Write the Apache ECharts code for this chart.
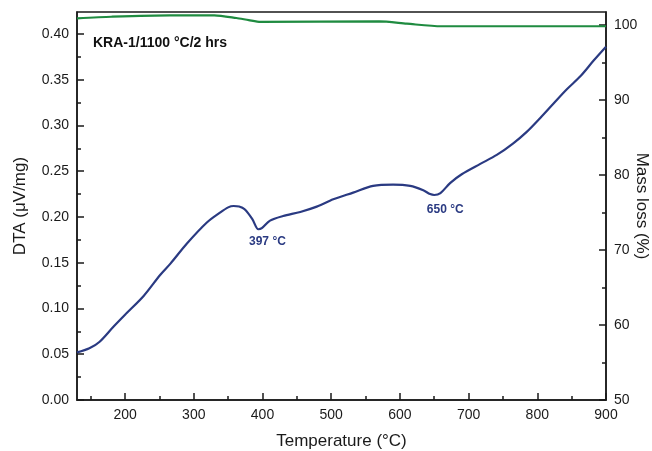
<!DOCTYPE html>
<html>
<head>
<meta charset="utf-8">
<script src="https://cdn.jsdelivr.net/npm/echarts@6/dist/echarts.min.js"></script>
<style>html,body{margin:0;padding:0;background:#fff}#c{width:652px;height:451px}</style>
</head>
<body>
<div id="c"></div>
<script>
// DTA curve (µV/mg) vs temperature (°C)
const dtaTemp = [130, 148, 163, 183, 202, 227, 251, 266, 290, 319, 338, 350, 358, 366, 374, 385, 394, 399, 411, 430, 455, 479, 503, 532, 561, 590, 615, 634, 644, 650, 659, 673, 690, 717, 741, 765, 785, 804, 824, 843, 863, 882, 900];
const dtaValue = [0.052, 0.0565, 0.0637, 0.080, 0.0947, 0.1137, 0.1366, 0.149, 0.171, 0.194, 0.2047, 0.2105, 0.212, 0.2115, 0.2085, 0.198, 0.1866, 0.1877, 0.196, 0.201, 0.2055, 0.2113, 0.2193, 0.2266, 0.234, 0.2354, 0.234, 0.2292, 0.225, 0.224, 0.226, 0.237, 0.2467, 0.258, 0.2678, 0.2805, 0.2933, 0.308, 0.3243, 0.3396, 0.354, 0.3709, 0.386];
// Mass curve (%) vs temperature (°C)
const massTemp = [130, 180, 265, 330, 362, 380, 397, 570, 610, 660, 900];
const massValue = [100.89, 101.1, 101.29, 101.29, 100.93, 100.65, 100.42, 100.47, 100.17, 99.83, 99.83];
// Peak annotations
const peakTemp = [397, 650];
const peakValue = [0.1866, 0.224];
const peakLabel = ['397 °C', '650 °C'];
// Axis ticks
const xMajor = [200, 300, 400, 500, 600, 700, 800, 900];
const xMinor = [150, 250, 350, 450, 550, 650, 750, 850];
const yLeftMajor = [0, 0.05, 0.10, 0.15, 0.20, 0.25, 0.30, 0.35, 0.40];
const yLeftMinor = [0.025, 0.075, 0.125, 0.175, 0.225, 0.275, 0.325, 0.375];
const yRightMajor = [50, 60, 70, 80, 90, 100];
const yRightMinor = [55, 65, 75, 85, 95];

const blue = '#2a3a82';
const green = '#1f8b40';
const ink = '#1a1a1a';
const font = 'Liberation Sans, Arial, sans-serif';

const xMin = 130, xMax = 900, yLMax = 0.424, yRMin = 50, yRMax = 101.73;

const chart = echarts.init(document.getElementById('c'), null, {renderer: 'canvas'});
const hiddenLine = {show: false};
chart.setOption({
  animation: false,
  backgroundColor: '#fff',
  title: {
    text: 'KRA-1/1100 °C/2 hrs', left: 93, top: 36, padding: 0,
    textStyle: {fontFamily: font, fontSize: 14, fontWeight: 'bold', color: '#111'}
  },
  grid: {left: 77, right: 46, top: 12, bottom: 51, outerBoundsMode: 'none', containLabel: false,
    show: true, borderColor: ink, borderWidth: 1.5, backgroundColor: 'transparent'},
  xAxis: [
    {
      type: 'value', min: xMin, max: xMax, position: 'bottom',
      name: 'Temperature (°C)', nameLocation: 'middle', nameGap: 33, nameMoveOverlap: false,
      nameTextStyle: {fontFamily: font, fontSize: 17, color: ink},
      axisLine: {show: true, onZero: false, lineStyle: {color: ink, width: 1.5}},
      axisTick: {show: true, inside: true, length: 7, customValues: xMajor, lineStyle: {color: ink, width: 1.5}},
      axisLabel: {customValues: xMajor, fontFamily: font, fontSize: 14, color: ink, margin: 8},
      splitLine: {show: false}
    },
    {
      type: 'value', min: xMin, max: xMax, position: 'bottom',
      axisLine: hiddenLine,
      axisTick: {show: true, inside: true, length: 4, customValues: xMinor, lineStyle: {color: ink, width: 1.5}},
      axisLabel: {show: false}, splitLine: {show: false}
    }
  ],
  yAxis: [
    {
      type: 'value', min: 0, max: yLMax, position: 'left',
      name: 'DTA (μV/mg)', nameLocation: 'middle', nameGap: 48, nameMoveOverlap: false,
      nameTextStyle: {fontFamily: font, fontSize: 17, color: ink},
      axisLine: {show: true, lineStyle: {color: ink, width: 1.5}},
      axisTick: {show: true, inside: true, length: 7, customValues: yLeftMajor, lineStyle: {color: ink, width: 1.5}},
      axisLabel: {customValues: yLeftMajor, formatter: v => v.toFixed(2), fontFamily: font, fontSize: 14, color: ink, margin: 8},
      splitLine: {show: false}
    },
    {
      type: 'value', min: yRMin, max: yRMax, position: 'right',
      name: 'Mass loss (%)', nameLocation: 'middle', nameGap: 36, nameRotate: -90, nameMoveOverlap: false,
      nameTextStyle: {fontFamily: font, fontSize: 17, color: ink, verticalAlign: 'middle'},
      axisLine: {show: true, lineStyle: {color: ink, width: 1.5}},
      axisTick: {show: true, inside: true, length: 7, customValues: yRightMajor, lineStyle: {color: ink, width: 1.5}},
      axisLabel: {customValues: yRightMajor, fontFamily: font, fontSize: 14, color: ink, margin: 8},
      splitLine: {show: false}
    },
    {
      type: 'value', min: 0, max: yLMax, position: 'left',
      axisLine: hiddenLine,
      axisTick: {show: true, inside: true, length: 4, customValues: yLeftMinor, lineStyle: {color: ink, width: 1.5}},
      axisLabel: {show: false}, splitLine: {show: false}
    },
    {
      type: 'value', min: yRMin, max: yRMax, position: 'right',
      axisLine: hiddenLine,
      axisTick: {show: true, inside: true, length: 4, customValues: yRightMinor, lineStyle: {color: ink, width: 1.5}},
      axisLabel: {show: false}, splitLine: {show: false}
    }
  ],
  series: [
    {
      type: 'line', xAxisIndex: 0, yAxisIndex: 0,
      data: dtaTemp.map((t, i) => [t, dtaValue[i]]),
      showSymbol: false, smooth: 0.3,
      lineStyle: {color: blue, width: 2.2},
      markPoint: {
        symbol: 'circle', symbolSize: 0,
        label: {show: true, fontFamily: font, fontSize: 12, fontWeight: 'bold', color: blue},
        data: peakTemp.map((t, i) => ({
          coord: [t, peakValue[i]], value: peakLabel[i],
          label: {formatter: peakLabel[i], position: 'inside', offset: i === 0 ? [7, 12] : [11, 15]}
        }))
      }
    },
    {
      type: 'line', xAxisIndex: 0, yAxisIndex: 1,
      data: massTemp.map((t, i) => [t, massValue[i]]),
      showSymbol: false, smooth: 0.25,
      lineStyle: {color: green, width: 2.2}
    }
  ]
});
</script>
</body>
</html>
